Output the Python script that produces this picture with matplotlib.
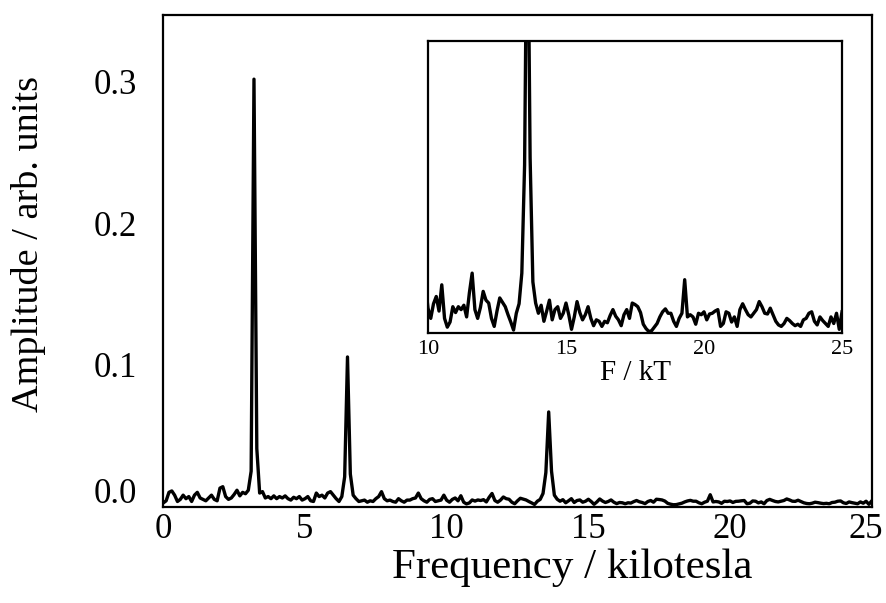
import numpy as np
import matplotlib.pyplot as plt
import matplotlib.transforms as mtransforms

plt.rcParams['font.family'] = ['Liberation Serif', 'DejaVu Serif']

# Fourier amplitude of the oscillations, one value every 0.1 kT (0 to 25 kT)
freq_step = 0.1
amp = [
    # 0.0 - 0.9
    0.0015, 0.0030, 0.0090, 0.0100, 0.0070, 0.0025, 0.0040, 0.0070, 0.0045, 0.0060,
    # 1.0 - 1.9
    0.0025, 0.0070, 0.0090, 0.0050, 0.0040, 0.0030, 0.0050, 0.0070, 0.0040, 0.0030,
    # 2.0 - 2.9
    0.0120, 0.0130, 0.0060, 0.0040, 0.0050, 0.0075, 0.0105, 0.0065, 0.0090, 0.0080,
    # 3.0 - 3.9
    0.0105, 0.0240, 0.3020, 0.0400, 0.0085, 0.0095, 0.0050, 0.0060, 0.0045, 0.0065,
    # 4.0 - 4.9
    0.0045, 0.0060, 0.0050, 0.0065, 0.0045, 0.0035, 0.0055, 0.0045, 0.0060, 0.0035,
    # 5.0 - 5.9
    0.0045, 0.0060, 0.0030, 0.0025, 0.0085, 0.0060, 0.0070, 0.0050, 0.0085, 0.0095,
    # 6.0 - 6.9
    0.0070, 0.0045, 0.0025, 0.0060, 0.0200, 0.1050, 0.0220, 0.0070, 0.0045, 0.0025,
    # 7.0 - 7.9
    0.0030, 0.0035, 0.0020, 0.0030, 0.0025, 0.0045, 0.0060, 0.0095, 0.0045, 0.0030,
    # 8.0 - 8.9
    0.0035, 0.0025, 0.0020, 0.0045, 0.0030, 0.0020, 0.0035, 0.0035, 0.0045, 0.0050,
    # 9.0 - 9.9
    0.0085, 0.0045, 0.0030, 0.0020, 0.0040, 0.0045, 0.0025, 0.0030, 0.0035, 0.0070,
    # 10.0 - 10.9
    0.0034, 0.0020, 0.0040, 0.0050, 0.0030, 0.0066, 0.0020, 0.0008, 0.0015, 0.0036,
    # 11.0 - 11.9
    0.0028, 0.0036, 0.0032, 0.0038, 0.0022, 0.0055, 0.0082, 0.0032, 0.0020, 0.0035,
    # 12.0 - 12.9
    0.0057, 0.0045, 0.0041, 0.0020, 0.0009, 0.0030, 0.0048, 0.0042, 0.0036, 0.0025,
    # 13.0 - 13.9
    0.0015, 0.0004, 0.0027, 0.0040, 0.0082, 0.0230, 0.0660, 0.0240, 0.0070, 0.0041,
    # 14.0 - 14.9
    0.0027, 0.0038, 0.0016, 0.0030, 0.0045, 0.0018, 0.0032, 0.0036, 0.0020, 0.0027,
    # 15.0 - 15.9
    0.0041, 0.0025, 0.0005, 0.0022, 0.0043, 0.0028, 0.0018, 0.0025, 0.0036, 0.0020,
    # 16.0 - 16.9
    0.0010, 0.0018, 0.0016, 0.0009, 0.0016, 0.0014, 0.0024, 0.0032, 0.0023, 0.0018,
    # 17.0 - 17.9
    0.0010, 0.0025, 0.0032, 0.0020, 0.0041, 0.0039, 0.0036, 0.0028, 0.0012, 0.0006,
    # 18.0 - 18.9
    0.0002, 0.0003, 0.0008, 0.0013, 0.0022, 0.0029, 0.0033, 0.0027, 0.0027, 0.0016,
    # 19.0 - 19.9
    0.0009, 0.0020, 0.0027, 0.0073, 0.0022, 0.0025, 0.0022, 0.0012, 0.0027, 0.0025,
    # 20.0 - 20.9
    0.0029, 0.0018, 0.0026, 0.0027, 0.0030, 0.0032, 0.0009, 0.0013, 0.0029, 0.0027,
    # 21.0 - 21.9
    0.0015, 0.0022, 0.0009, 0.0032, 0.0040, 0.0032, 0.0025, 0.0022, 0.0027, 0.0032,
    # 22.0 - 22.9
    0.0043, 0.0036, 0.0027, 0.0026, 0.0034, 0.0025, 0.0016, 0.0011, 0.0009, 0.0013,
    # 23.0 - 23.9
    0.0020, 0.0017, 0.0013, 0.0010, 0.0012, 0.0009, 0.0018, 0.0020, 0.0027, 0.0029,
    # 24.0 - 24.9
    0.0016, 0.0011, 0.0022, 0.0017, 0.0013, 0.0009, 0.0022, 0.0013, 0.0027, 0.0005,
    # 25.0
    0.0029,
]
freq = np.arange(len(amp)) * freq_step

main_xticks = [0, 5, 10, 15, 20, 25]
main_yticks = [0.0, 0.1, 0.2, 0.3]
inset_xticks = [10, 15, 20, 25]

fig = plt.figure(figsize=(8.87, 6.03), dpi=100)


def shift_label(label, dx_px, dy_px):
    label.set_transform(label.get_transform() +
                        mtransforms.ScaledTranslation(dx_px / 100, dy_px / 100,
                                                      fig.dpi_scale_trans))


# main spectrum
ax = fig.add_axes([0.1841, 0.1592, 0.7987, 0.8159])
ax.plot(freq, amp, color='black', lw=2.4)
ax.set_xlim(0, 25)
ax.set_ylim(-0.0014, 0.3475)
ax.set_xticks(main_xticks)
ax.set_yticks(main_yticks)
ax.set_yticklabels([f'{v:.1f}' for v in main_yticks])
ax.tick_params(length=0, labelsize=25, pad=4)
ax.tick_params(axis='y', pad=19)
ax.set_xlabel('Frequency / kilotesla', fontsize=31)
ax.set_ylabel('Amplitude / arb. units', fontsize=27.5)
ax.xaxis.set_label_coords(0.577, -0.085)
ax.yaxis.set_label_coords(-0.166, 0.535)
for s in ax.spines.values():
    s.set_linewidth(1.6)

# 0.0 sits a little above the corner, 25 pulled in from the edge
shift_label(ax.get_yticklabels()[0], 0, 15)
shift_label(ax.get_xticklabels()[-1], -6, 0)

# zoomed view of the high-frequency part
ins = fig.add_axes([0.4825, 0.4478, 0.4668, 0.4842])
ins.plot(freq, amp, color='black', lw=2.4)
ins.set_xlim(10, 25)
ins.set_ylim(0, 0.04)
ins.set_xticks(inset_xticks)
ins.set_yticks([])
ins.tick_params(length=0, labelsize=16, pad=5)
ins.set_xlabel('F / kT', fontsize=21, labelpad=1)
for s in ins.spines.values():
    s.set_linewidth(1.6)

fig.savefig('out.png', dpi=100)
